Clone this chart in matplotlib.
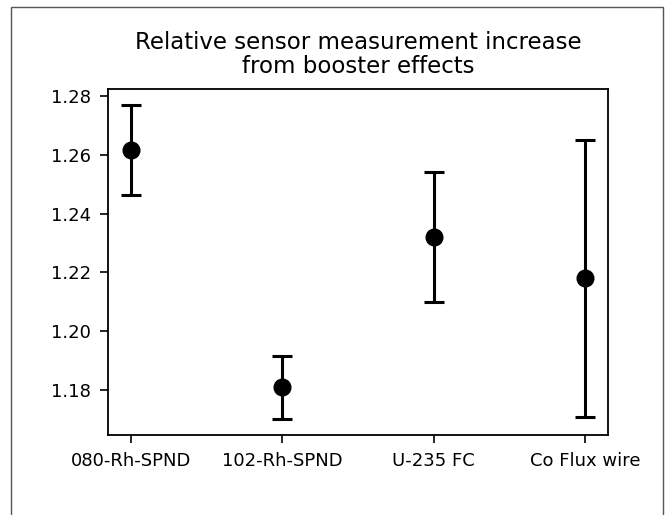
import numpy as np
import matplotlib
matplotlib.use("Agg")
import matplotlib.pyplot as plt
from matplotlib.patches import Rectangle

sensors = ["080-Rh-SPND", "102-Rh-SPND", "U-235 FC", "Co Flux wire"]
ratio = [1.2616, 1.1809, 1.2320, 1.2180]
ratio_err = [0.0154, 0.0108, 0.0220, 0.0471]

fig = plt.figure(figsize=(6.67, 5.15), dpi=100)
ax = fig.add_axes([108 / 667, 80 / 515, 500 / 667, 346 / 515])

x = np.arange(len(sensors))
ax.errorbar(x, ratio, yerr=ratio_err, fmt="o", color="black",
            markersize=12, elinewidth=2.2, capsize=7.5, capthick=2.2)

ax.set_xticks(x)
ax.set_xticklabels(sensors)
ax.set_yticks([1.18, 1.20, 1.22, 1.24, 1.26, 1.28])
ax.tick_params(labelsize=13, width=1.2, length=6, pad=6)
for s in ax.spines.values():
    s.set_linewidth(1.3)
ax.set_title("Relative sensor measurement increase\nfrom booster effects",
             fontsize=16.5, pad=11.5, linespacing=1.05)

# frame of the original figure window (bottom edge cropped out)
fig.patches.append(Rectangle((11 / 667, -0.2), 652 / 667, 1.2 - 6.5 / 515,
                             transform=fig.transFigure, fill=False,
                             edgecolor="#555555", linewidth=1.0))

fig.savefig("out.png", dpi=100)
